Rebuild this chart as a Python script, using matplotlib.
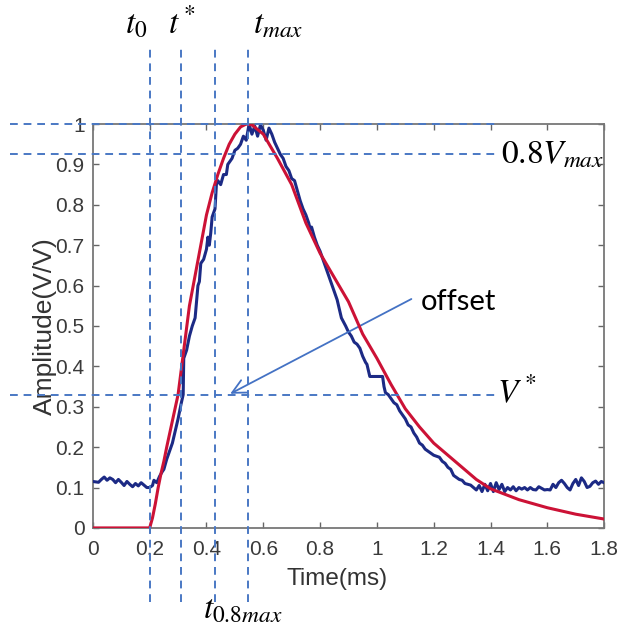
import matplotlib
matplotlib.use("Agg")
import matplotlib.pyplot as plt

# fitted model curve (red)
red_t = [0.0, 0.2, 0.21, 0.22, 0.23, 0.24, 0.25, 0.26, 0.28, 0.30, 0.32, 0.34, 0.36,
         0.38, 0.40, 0.42, 0.44, 0.46, 0.48, 0.50, 0.52, 0.54, 0.56, 0.60, 0.65, 0.70,
         0.75, 0.80, 0.85, 0.90, 0.95, 1.00, 1.05, 1.10, 1.15, 1.20, 1.25, 1.30, 1.35,
         1.40, 1.50, 1.60, 1.70, 1.80]
red_v = [0.0, 0.0, 0.025, 0.06, 0.1, 0.135, 0.165, 0.2, 0.265, 0.33, 0.44, 0.55, 0.625,
         0.70, 0.775, 0.83, 0.875, 0.915, 0.95, 0.975, 0.993, 1.0, 0.998, 0.975, 0.915, 0.85,
         0.755, 0.68, 0.62, 0.56, 0.48, 0.42, 0.355, 0.295, 0.25, 0.21, 0.18, 0.15, 0.12,
         0.097, 0.07, 0.05, 0.034, 0.022]

# measured signal (blue)
blue_t = [0.00, 0.02, 0.03, 0.04, 0.05, 0.06, 0.07, 0.08, 0.09, 0.10, 0.11, 0.12, 0.13,
          0.14, 0.15, 0.16, 0.17, 0.18, 0.19, 0.20, 0.21, 0.215, 0.225, 0.235, 0.245, 0.25,
          0.26, 0.27, 0.28, 0.29, 0.30, 0.31, 0.318, 0.32, 0.33, 0.34, 0.35, 0.36, 0.365,
          0.37, 0.375, 0.38, 0.39, 0.40, 0.405, 0.41, 0.415, 0.42, 0.43, 0.435, 0.44, 0.45,
          0.46, 0.47, 0.475, 0.48, 0.49, 0.50, 0.51, 0.52, 0.53, 0.54, 0.55, 0.56, 0.57,
          0.58, 0.59, 0.60, 0.61, 0.62, 0.63, 0.64, 0.65, 0.66, 0.67, 0.68, 0.69, 0.70,
          0.71, 0.72, 0.73, 0.74, 0.75, 0.76, 0.765, 0.77, 0.78, 0.79, 0.80, 0.81, 0.82,
          0.83, 0.84, 0.85, 0.86, 0.87, 0.875, 0.89, 0.90, 0.91, 0.92, 0.93, 0.94, 0.95,
          0.96, 0.965, 0.975, 1.00, 1.02, 1.025, 1.03, 1.04, 1.05, 1.06, 1.07, 1.08, 1.09,
          1.10, 1.11, 1.12, 1.13, 1.14, 1.15, 1.16, 1.17, 1.18, 1.19, 1.20, 1.22, 1.23,
          1.24, 1.25, 1.26, 1.27, 1.28, 1.29, 1.30, 1.31, 1.32, 1.33, 1.34, 1.35, 1.36,
          1.37, 1.38, 1.39, 1.40, 1.41, 1.42, 1.43, 1.44, 1.45, 1.46, 1.47, 1.48, 1.49,
          1.50, 1.51, 1.52, 1.53, 1.54, 1.55, 1.56, 1.57, 1.58, 1.59, 1.60, 1.61, 1.62,
          1.63, 1.64, 1.65, 1.66, 1.67, 1.68, 1.69, 1.70, 1.71, 1.72, 1.73, 1.74, 1.75,
          1.76, 1.77, 1.78, 1.79, 1.80]
blue_v = [0.115, 0.113, 0.12, 0.126, 0.118, 0.124, 0.12, 0.112, 0.12, 0.113, 0.105, 0.115, 0.108,
          0.102, 0.11, 0.104, 0.112, 0.106, 0.10, 0.10, 0.105, 0.118, 0.112, 0.128, 0.14, 0.145,
          0.17, 0.19, 0.21, 0.24, 0.27, 0.305, 0.33, 0.42, 0.44, 0.475, 0.50, 0.52, 0.56,
          0.60, 0.61, 0.655, 0.665, 0.69, 0.72, 0.70, 0.73, 0.77, 0.79, 0.85, 0.86, 0.85,
          0.875, 0.875, 0.90, 0.905, 0.915, 0.935, 0.94, 0.95, 0.97, 0.96, 1.0, 0.975, 0.995,
          0.97, 0.998, 0.985, 0.96, 0.99, 0.975, 0.955, 0.94, 0.925, 0.915, 0.895, 0.885, 0.865,
          0.86, 0.835, 0.81, 0.79, 0.775, 0.755, 0.74, 0.745, 0.72, 0.70, 0.685, 0.665, 0.645,
          0.625, 0.605, 0.585, 0.565, 0.535, 0.52, 0.50, 0.485, 0.475, 0.46, 0.455, 0.445, 0.425,
          0.41, 0.405, 0.375, 0.375, 0.375, 0.35, 0.335, 0.33, 0.32, 0.31, 0.305, 0.29, 0.28,
          0.27, 0.255, 0.25, 0.235, 0.225, 0.21, 0.205, 0.195, 0.19, 0.185, 0.18, 0.175, 0.165,
          0.16, 0.15, 0.145, 0.13, 0.125, 0.12, 0.118, 0.11, 0.108, 0.106, 0.10, 0.094, 0.105,
          0.09, 0.108, 0.092, 0.11, 0.09, 0.112, 0.095, 0.108, 0.09, 0.10, 0.094, 0.102, 0.092,
          0.10, 0.096, 0.10, 0.094, 0.10, 0.095, 0.094, 0.102, 0.098, 0.094, 0.095, 0.094, 0.108,
          0.10, 0.112, 0.118, 0.11, 0.10, 0.094, 0.11, 0.12, 0.105, 0.124, 0.115, 0.10, 0.103,
          0.112, 0.116, 0.108, 0.115, 0.112]

# marker positions
t_marks = [0.2, 0.312, 0.431, 0.546]
v_marks = [1.0, 0.926, 0.329]

x_ticks = [0, 0.2, 0.4, 0.6, 0.8, 1.0, 1.2, 1.4, 1.6, 1.8]
x_labels = ["0", "0.2", "0.4", "0.6", "0.8", "1", "1.2", "1.4", "1.6", "1.8"]
y_ticks = [0, 0.1, 0.2, 0.3, 0.4, 0.5, 0.6, 0.7, 0.8, 0.9, 1.0]
y_labels = ["0", "0.1", "0.2", "0.3", "0.4", "0.5", "0.6", "0.7", "0.8", "0.9", "1"]

plt.rcParams["font.family"] = "Liberation Sans"
plt.rcParams["mathtext.fontset"] = "stix"

fig = plt.figure(figsize=(6.19, 6.33), dpi=100)
ax = fig.add_axes([0.150, 0.166, 0.826, 0.638])

ax.plot(blue_t, blue_v, color="#1c2a85", lw=2.2, zorder=3)
ax.plot(red_t, red_v, color="#cc1236", lw=2.2, zorder=4)

ax.set_xlim(0, 1.8)
ax.set_ylim(0, 1)
ax.set_xticks(x_ticks)
ax.set_xticklabels(x_labels)
ax.set_yticks(y_ticks)
ax.set_yticklabels(y_labels)
ax.tick_params(direction="in", top=True, right=True, length=4, width=1,
               colors="#666666", labelcolor="#3a3a3a", labelsize=15)
ax.tick_params(axis="x", pad=9)
ax.tick_params(axis="y", pad=6)
for s in ax.spines.values():
    s.set_color("#777777")
    s.set_linewidth(1.3)

ax.set_xlabel("Time(ms)", fontsize=17.5, color="#333333")
ax.xaxis.set_label_coords(0.477, -0.10)
ax.set_ylabel("Amplitude(V/V)", fontsize=19, color="#333333", labelpad=-1)

# dashed guide lines that run outside the axes
dash_col = "#4a78c4"
for t in t_marks:
    ax.plot([t, t], [-0.183, 1.188], ls=(0, (4, 3)), color=dash_col, lw=1.4,
            clip_on=False, zorder=5)
for v in v_marks:
    ax.plot([-0.292, 1.42], [v, v], ls=(0, (4, 3)), color=dash_col, lw=1.4,
            clip_on=False, zorder=5)

tfs = 24
ax.text(0.113, 1.225, r"$t_0$", fontsize=tfs, clip_on=False)
ax.text(0.264, 1.225, r"$t^*$", fontsize=tfs, clip_on=False)
ax.text(0.563, 1.225, r"$t_{max}$", fontsize=tfs, clip_on=False)
ax.text(0.387, -0.225, r"$t_{0.8max}$", fontsize=tfs, clip_on=False)
ax.text(1.438, 0.903, r"$0.8V_{max}$", fontsize=tfs, clip_on=False)
ax.text(1.424, 0.309, r"$V^*$", fontsize=tfs, clip_on=False)

ax.text(1.155, 0.56, "offset", fontsize=21, family="Lato", va="center")
ax.annotate("", xy=(0.475, 0.329), xytext=(1.13, 0.57),
            arrowprops=dict(arrowstyle="->", color="#4472c4", lw=1.3,
                            mutation_scale=25))

fig.savefig("out.png", dpi=100)
